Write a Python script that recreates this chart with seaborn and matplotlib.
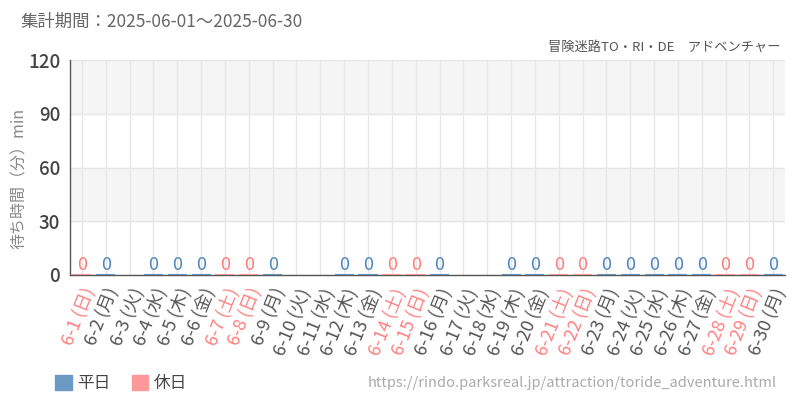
import pandas as pd
import numpy as np
import matplotlib
matplotlib.use("Agg")
import matplotlib.pyplot as plt
import matplotlib.patches as mpatches
import seaborn as sns

# June 2025 waiting times (min); None = no data that day
days = [f"6-{d}" for d in range(1, 31)]
weekdays = ["日", "月", "火", "水", "木", "金", "土"] * 5
weekdays = weekdays[:30]
wait_min = [0, 0, None, 0, 0, 0, 0, 0, 0, None,
            None, 0, 0, 0, 0, 0, None, None, 0, 0,
            0, 0, 0, 0, 0, 0, 0, 0, 0, 0]
day_type = ["休日" if w in ("土", "日") else "平日" for w in weekdays]
labels = [f"{d} ({w})" for d, w in zip(days, weekdays)]

df = pd.DataFrame({"label": labels, "wait": wait_min, "type": day_type})

sns.set_style("white")
plt.rcParams['font.family'] = ['Noto Sans CJK JP', 'DejaVu Sans']

colors = {"平日": "#6a9ac4", "休日": "#ff9999"}
text_colors = {"平日": "#4a86bd", "休日": "#ff7b7b"}

fig = plt.figure(figsize=(8, 4), dpi=100)
ax = fig.add_axes([0.0875, 0.3125, 0.894, 0.5375])

# background bands
for lo, hi in [(30, 60), (90, 120)]:
    ax.axhspan(lo, hi, color="#f5f5f5", zorder=0)

sns.barplot(data=df.dropna(), x="label", y="wait", hue="type", order=labels,
            hue_order=["平日", "休日"], palette=colors, dodge=False, width=0.8,
            linewidth=1.6, ax=ax, legend=False, zorder=3)
for cont, key in zip(ax.containers, ["平日", "休日"]):
    for bar in cont:
        bar.set_edgecolor(colors[key])
    ax.bar_label(cont, fmt="%d", padding=1, color=text_colors[key], fontsize=13)

ax.set_ylim(0, 120)
ax.set_yticks([0, 30, 60, 90, 120])
ax.set_xlim(-0.5, 29.5)
ax.grid(True, color="#e6e6e6", linewidth=1, zorder=1)
ax.set_axisbelow(True)
for s in ["top", "right"]:
    ax.spines[s].set_visible(False)
for s in ["left", "bottom"]:
    ax.spines[s].set_color("#555555")
    ax.spines[s].set_linewidth(1)
ax.tick_params(axis="both", length=4, color="#333333", width=1)
ax.tick_params(axis="y", labelsize=13.5, labelcolor="#444444", pad=3)
for t in ax.get_yticklabels():
    t.set_fontweight("medium")
ax.set_xlabel("")
ax.set_ylabel("待ち時間（分）min", fontsize=11.5, color="#888888")
ax.yaxis.set_label_coords(-0.059, 0.45)

ax.set_xticks(range(len(labels)))
ax.set_xticklabels(labels, rotation=68, ha="right", rotation_mode="anchor", fontsize=13)
for t, kind in zip(ax.get_xticklabels(), day_type):
    t.set_color("#ff8080" if kind == "休日" else "#555555")

fig.text(0.025, 0.945, "集計期間：2025-06-01～2025-06-30", fontsize=12.5, color="#666666", va="center")
fig.text(0.975, 0.882, "冒険迷路TO・RI・DE　アドベンチャー", fontsize=9.5, color="#555555",
         ha="right", va="center")
fig.text(0.971, 0.042, "https://rindo.parksreal.jp/attraction/toride_adventure.html",
         fontsize=10.5, color="#aaaaaa", ha="right", va="center")

handles = [mpatches.Patch(color=colors["平日"], label="平日"),
           mpatches.Patch(color=colors["休日"], label="休日")]
fig.legend(handles=handles, loc="center left", bbox_to_anchor=(0.05, 0.042), ncol=2,
           frameon=False, fontsize=12, handlelength=1.0, handleheight=1.0,
           columnspacing=1.3, handletextpad=0.3, labelcolor="#444444")

fig.savefig("out.png", dpi=100)
